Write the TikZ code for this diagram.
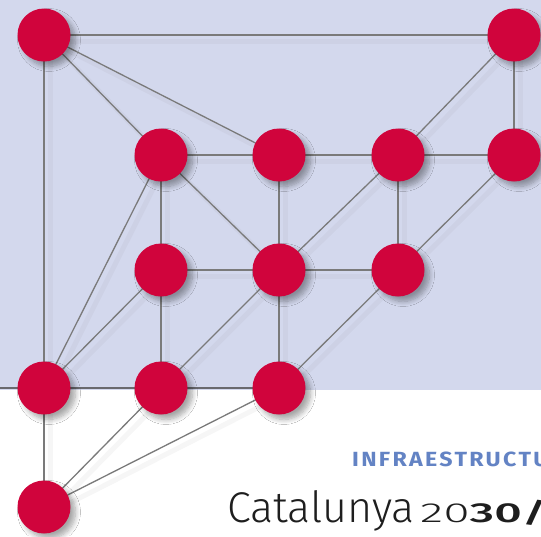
\documentclass[tikz,border=0pt]{standalone}
\usepackage{fontspec}
\setmainfont{Fira Sans}[Numbers=Lining]
\newfontfamily\firalight{Fira Sans Light}[Numbers=Lining]
\newfontfamily\firamedium{Fira Sans Medium}[Numbers=Lining]
\usetikzlibrary{shadows.blur}
\definecolor{bgblue}{RGB}{211,216,237}
\definecolor{nodered}{RGB}{208,4,60}
\definecolor{edgegrey}{RGB}{122,122,122}
\definecolor{borderline}{RGB}{105,105,110}
\definecolor{titleblue}{RGB}{99,131,196}
\definecolor{darktext}{RGB}{30,30,30}
\pgfdeclarelayer{back}
\pgfsetlayers{back,main}
\begin{document}
\begin{tikzpicture}[x=1pt,y=-1pt,
  dot/.style={circle,fill=nodered,minimum size=53pt,inner sep=0pt,
    blur shadow={shadow xshift=5pt,shadow yshift=-5pt,shadow blur steps=8,shadow opacity=35,shadow blur radius=5pt}},
  edge/.style={draw=edgegrey,line width=1.3pt},
  edgeshadow/.style={draw=black!50,opacity=0.07,line width=5pt,line cap=round}]
\useasboundingbox (0,0) rectangle (541,536);
\clip (0,0) rectangle (541,536);
% nodes
\node[dot] (A) at (44,35) {};
\node[dot] (B) at (514,35) {};
\node[dot] (C) at (161,155) {};
\node[dot] (D) at (279,155) {};
\node[dot] (E) at (398,155) {};
\node[dot] (F) at (514,155) {};
\node[dot] (G) at (161,270) {};
\node[dot] (H) at (279,270) {};
\node[dot] (I) at (398,270) {};
\node[dot] (J) at (44,388) {};
\node[dot] (K) at (161,388) {};
\node[dot] (L) at (279,388) {};
\node[dot] (M) at (44,507) {};
\coordinate (W) at (0,388);
\begin{pgfonlayer}{back}
\fill[white] (0,0) rectangle (541,536);
\fill[bgblue] (0,0) rectangle (541,390);
\foreach \a/\b in {A/B,A/J,A/C,A/D,B/F,B/E,C/D,D/E,E/F,C/G,C/H,D/H,E/I,E/H,F/I,G/H,H/I,G/J,G/K,H/K,H/L,I/L,C/J,J/M,M/K,M/L}{
  \draw[edgeshadow] ([xshift=6pt,yshift=-6pt]\a.center) -- ([xshift=6pt,yshift=-6pt]\b.center);
}
\foreach \a/\b in {A/B,A/J,A/C,A/D,B/F,B/E,C/D,D/E,E/F,C/G,C/H,D/H,E/I,E/H,F/I,G/H,H/I,G/J,G/K,H/K,H/L,I/L,C/J,J/M,M/K,M/L}{
  \draw[edge] (\a.center) -- (\b.center);
}
\draw[draw=borderline,line width=2pt] (W) -- (L.center);
\end{pgfonlayer}
% texts
\node[anchor=base west,inner sep=0pt,text=titleblue,font=\bfseries\fontsize{20.5}{20.5}\selectfont] (t1) at (352,466) {\scalebox{1.13}[1]{\addfontfeatures{LetterSpace=10}INFRAESTRUCTURES}};
\node[anchor=base west,inner sep=0pt,text=darktext,font=\firalight\fontsize{43}{43}\selectfont] (t2) at (227,522) {Catalunya};
\node[anchor=base west,inner sep=0pt,text=darktext,font=\fontsize{27.5}{27.5}\selectfont] (t3) at (420,522) {\scalebox{1.75}[1]{{\firalight 2}{\firalight 0}{\firamedium 30/}}};
\end{tikzpicture}
\end{document}
